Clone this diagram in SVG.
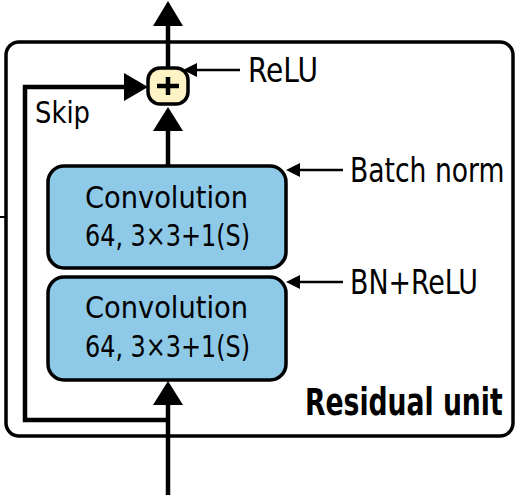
<svg xmlns="http://www.w3.org/2000/svg" width="520" height="504" viewBox="0 0 520 504">
<style>
text{font-family:"DejaVu Sans","Liberation Sans",sans-serif;font-stretch:condensed;fill:#000}
.lbl{font-size:31px}
.box{fill:#8ecae8;stroke:#000;stroke-width:3.5}
.ln{fill:none;stroke:#000;stroke-width:4.5}
.thin{fill:none;stroke:#000;stroke-width:2.5}
.ah{fill:#000}
</style>
<rect x="6" y="42" width="507" height="394" rx="13" fill="#fff" stroke="#000" stroke-width="3.5"/>
<g id="connectors">
<line x1="0" y1="217" x2="6" y2="217" stroke="#000" stroke-width="2"/>
<line class="ln" x1="168" y1="22" x2="168" y2="69"/>
<polygon class="ah" points="168,1 153,26 183,26"/>
<line class="ln" x1="168" y1="165" x2="168" y2="126"/>
<polygon class="ah" points="168,107 153,131 183,131"/>
<line class="ln" x1="168" y1="495" x2="168" y2="400"/>
<polygon class="ah" points="168,381 153,405 183,405"/>
<polyline class="ln" points="168,420 25,420 25,87 130,87"/>
<polygon class="ah" points="148,87 124,73 124,101"/>
<line class="thin" x1="240" y1="70" x2="193" y2="70"/>
<polygon class="ah" points="183,70 197,63 197,77"/>
<line class="thin" x1="343" y1="170" x2="296" y2="170"/>
<polygon class="ah" points="286,170 300,163 300,177"/>
<line class="thin" x1="343" y1="282" x2="296" y2="282"/>
<polygon class="ah" points="286,282 300,275 300,289"/>
</g>
<g id="plus">
<rect x="148" y="68" width="40" height="36" rx="12" fill="#fdf3c4" stroke="#000" stroke-width="3.5"/>
<line x1="157" y1="86" x2="179" y2="86" stroke="#000" stroke-width="4.5"/>
<line x1="168" y1="77" x2="168" y2="95" stroke="#000" stroke-width="4.5"/>
</g>
<g id="conv1">
<rect class="box" x="48" y="166" width="238" height="102" rx="16"/>
<text class="lbl" x="85" y="208" textLength="163" lengthAdjust="spacingAndGlyphs">Convolution</text>
<text class="lbl" x="85" y="246" textLength="165" lengthAdjust="spacingAndGlyphs">64, 3×3+1(S)</text>
</g>
<g id="conv2">
<rect class="box" x="48" y="277" width="238" height="103" rx="16"/>
<text class="lbl" x="85" y="318" textLength="163" lengthAdjust="spacingAndGlyphs">Convolution</text>
<text class="lbl" x="85" y="357" textLength="165" lengthAdjust="spacingAndGlyphs">64, 3×3+1(S)</text>
</g>
<text x="248" y="82" font-size="34" textLength="70" lengthAdjust="spacingAndGlyphs">ReLU</text>
<text x="35" y="123" font-size="30" textLength="55" lengthAdjust="spacingAndGlyphs">Skip</text>
<text transform="translate(350,182) scale(0.87,1)" x="0" y="0" font-size="34">Batch norm</text>
<text x="350" y="294" font-size="34" textLength="128" lengthAdjust="spacingAndGlyphs">BN+ReLU</text>
<text transform="translate(305,415) scale(0.8,1)" x="0" y="0" font-size="37" font-weight="bold">Residual unit</text>
</svg>
